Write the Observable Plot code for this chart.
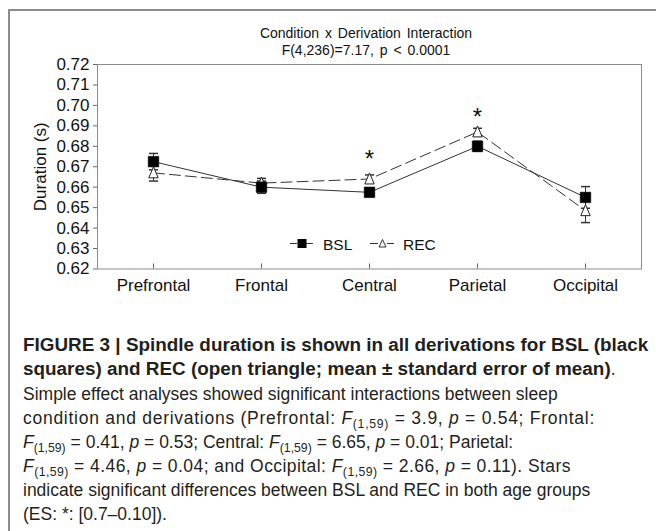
<!DOCTYPE html>
<html><head><meta charset="utf-8">
<script src="https://cdn.jsdelivr.net/npm/d3@7"></script>
<script src="https://cdn.jsdelivr.net/npm/@observablehq/plot@0.6"></script>
<style>
body{margin:0;background:#fff;}
#wrap{position:relative;width:656px;height:531px;overflow:hidden;font-family:"Liberation Sans",Arial,sans-serif;background:#fff;}
#border{position:absolute;left:8px;top:9px;width:700px;height:600px;border-left:2px solid #8c8c8c;border-top:2px solid #8c8c8c;}
#chart{position:absolute;left:0;top:0;}
.title{position:absolute;left:0;width:732px;text-align:center;font-size:14px;line-height:16px;word-spacing:2px;color:#111;}
#legend{position:absolute;left:0;top:0;}
#caption{position:absolute;left:23px;top:333px;color:#231f20;}
#caption div{line-height:24px;white-space:nowrap;}
#caption div span.fit{display:inline-block;}
.b{font-weight:bold;font-size:18.9px;}
.r{font-size:17.5px;}
sub{font-size:70%;vertical-align:-0.3em;line-height:0;}
</style></head>
<body>
<div id="wrap">
  <div id="border"></div>
  <div id="chart"></div>
  <div class="title" style="top:25px">Condition x Derivation Interaction</div>
  <div class="title" style="top:42px">F(4,236)=7.17, p &lt; 0.0001</div>
  <svg id="legend" width="656" height="300">
    <line x1="290" x2="297" y1="243.5" y2="243.5" stroke="#333"/>
    <line x1="306" x2="313" y1="243.5" y2="243.5" stroke="#333"/>
    <rect x="297.5" y="239" width="9" height="9" fill="#000"/>
    <text x="323" y="249.5" font-size="15.5" font-family="Liberation Sans, Arial" fill="#111">BSL</text>
    <line x1="370" x2="378" y1="243.5" y2="243.5" stroke="#333"/>
    <line x1="387" x2="394" y1="243.5" y2="243.5" stroke="#333"/>
    <path d="M382.5,239.5 L386,247 L379,247 Z" fill="#fff" stroke="#333"/>
    <text x="403" y="249.5" font-size="15.5" font-family="Liberation Sans, Arial" fill="#111">REC</text>
  </svg>
  <div id="caption">
    <div class="b">FIGURE 3 | Spindle duration is shown in all derivations for BSL (black</div>
    <div><span class="b">squares) and REC (open triangle; mean ± standard error of mean)</span><span class="r">.</span></div>
    <div class="r">Simple effect analyses showed significant interactions between sleep</div>
    <div class="r"><span class="fit" data-w="572">condition and derivations (Prefrontal: <i>F</i><sub>(1,59)</sub> = 3.9, <i>p</i> = 0.54; Frontal:</span></div>
    <div class="r"><i>F</i><sub>(1,59)</sub> = 0.41, <i>p</i> = 0.53; Central: <i>F</i><sub>(1,59)</sub> = 6.65, <i>p</i> = 0.01; Parietal:</div>
    <div class="r"><span class="fit" data-w="548"><i>F</i><sub>(1,59)</sub> = 4.46, <i>p</i> = 0.04; and Occipital: <i>F</i><sub>(1,59)</sub> = 2.66, <i>p</i> = 0.11). Stars</span></div>
    <div class="r">indicate significant differences between BSL and REC in both age groups</div>
    <div class="r">(ES: *: [0.7–0.10]).</div>
  </div>
</div>
<script>
const categories = ["Prefrontal", "Frontal", "Central", "Parietal", "Occipital"];
const bslMean = [0.6725, 0.660, 0.6575, 0.680, 0.655];
const bslSE   = [0.004, 0.003, 0.002, 0.0025, 0.0053];
const recMean = [0.667, 0.662, 0.664, 0.687, 0.6485];
const recSE   = [0.004, 0.0023, 0.002, 0.0018, 0.0058];
const starCats = ["Central", "Parietal"];
const starY = [0.6736, 0.6942];
const yTicks = [0.62, 0.63, 0.64, 0.65, 0.66, 0.67, 0.68, 0.69, 0.70, 0.71, 0.72];

const bsl = categories.map((c, i) => ({cat: c, mean: bslMean[i], se: bslSE[i]}));
const rec = categories.map((c, i) => ({cat: c, mean: recMean[i], se: recSE[i]}));
const rows = rec.concat(bsl);
const stars = starCats.map((c, i) => ({cat: c, y: starY[i]}));

const rad = s => Math.sqrt(s / Math.PI);
const capSym = {draw(ctx, size) { const r = rad(size); ctx.moveTo(-r, 0); ctx.lineTo(r, 0); }};
const sqSym = {draw(ctx, size) { const r = rad(size); ctx.rect(-r, -r, 2 * r, 2 * r); }};
const triSym = {draw(ctx, size) { const r = rad(size); ctx.moveTo(0, -1.3 * r); ctx.lineTo(r, 1.05 * r); ctx.lineTo(-r, 1.05 * r); ctx.closePath(); }};

const chart = Plot.plot({
  width: 656, height: 300,
  marginLeft: 97, marginRight: 15, marginTop: 64, marginBottom: 31.5,
  style: {fontFamily: "Liberation Sans, Arial, sans-serif", color: "#111", background: "transparent"},
  x: {type: "point", domain: categories, padding: 0.5, label: null},
  y: {domain: [0.62, 0.72], label: null},
  marks: [
    Plot.frame({stroke: "#8a8a8a"}),
    Plot.axisY({ticks: yTicks, tickFormat: d3.format(".2f"), tickSize: 4, tickPadding: 4, fontSize: 17,
      stroke: "#666", label: "Duration (s)", labelAnchor: "center", labelArrow: "none", labelOffset: 64}),
    Plot.axisX({tickSize: 5, dy: -5, text: null, stroke: "#666", label: null}),
    Plot.axisX({tickSize: 0, tickPadding: 10, fontSize: 17, label: null}),
    Plot.line(bsl, {x: "cat", y: "mean", stroke: "#333", strokeWidth: 1}),
    Plot.line(rec, {x: "cat", y: "mean", stroke: "#333", strokeWidth: 1, strokeDasharray: "11,5"}),
    Plot.ruleX(rows, {x: "cat", y1: d => d.mean - d.se, y2: d => d.mean + d.se, stroke: "#333"}),
    Plot.dot(rows, {x: "cat", y: d => d.mean - d.se, symbol: capSym, r: 4.5, stroke: "#333", fill: "none"}),
    Plot.dot(rows, {x: "cat", y: d => d.mean + d.se, symbol: capSym, r: 4.5, stroke: "#333", fill: "none"}),
    Plot.dot(rec, {x: "cat", y: "mean", symbol: triSym, r: 4.7, fill: "white", stroke: "#222", strokeWidth: 1}),
    Plot.dot(bsl, {x: "cat", y: "mean", symbol: sqSym, r: 5.3, fill: "black", stroke: "black", strokeWidth: 0.5}),
    Plot.text(stars, {x: "cat", y: "y", text: () => "*", fontSize: 24, fill: "#111"})
  ]
});
document.getElementById("chart").appendChild(chart);

// slightly widen selected caption lines toward their widths in the reference
document.querySelectorAll("#caption .fit").forEach(el => {
  const target = +el.dataset.w;
  const natural = el.getBoundingClientRect().width;
  const n = el.textContent.length;
  if (n > 1 && target > natural) el.style.letterSpacing = ((target - natural) / n) + "px";
});
</script>
</body></html>
